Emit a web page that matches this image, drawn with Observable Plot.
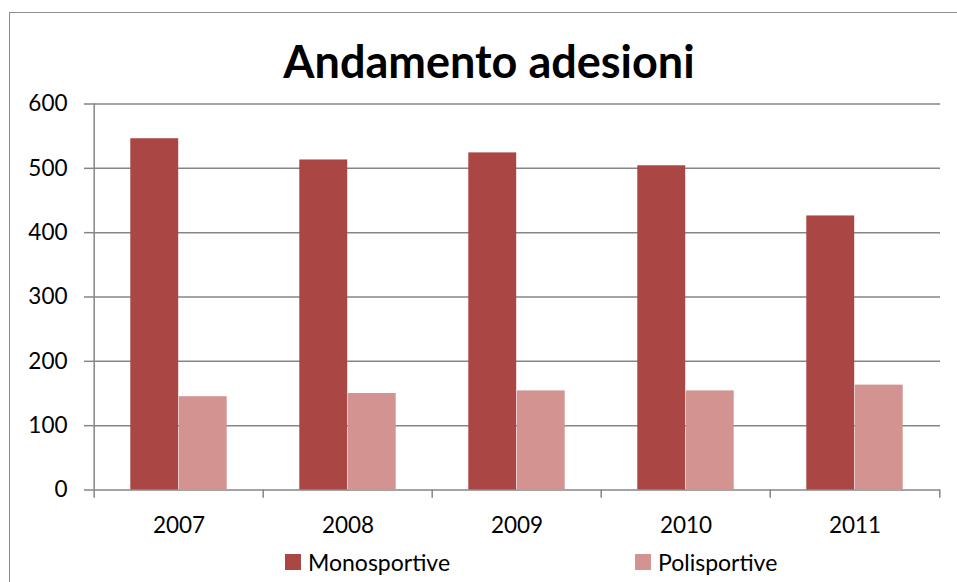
<!DOCTYPE html>
<html>
<head>
<meta charset="utf-8">
<script src="https://cdn.jsdelivr.net/npm/d3@7"></script>
<script src="https://cdn.jsdelivr.net/npm/@observablehq/plot@0.6"></script>
<style>
  html, body { margin: 0; padding: 0; background: #fff; overflow: hidden; }
  #wrap { position: relative; width: 957px; height: 582px; overflow: hidden; }
  #border { position: absolute; left: 9px; top: 12px; width: 1000px; height: 700px;
            border-left: 1.5px solid #8c8c8c; border-top: 1.5px solid #8c8c8c; }
  #chart { position: absolute; left: 0; top: 0; }
</style>
</head>
<body>
<div id="wrap">
  <div id="border"></div>
  <div id="chart"></div>
</div>
<script>
const title = "Andamento adesioni";
const years = ["2007", "2008", "2009", "2010", "2011"];
const monosportive = [546, 513, 524, 504, 426];
const polisportive = [145, 150, 154, 154, 163];
const yTicks = [0, 100, 200, 300, 400, 500, 600];
const seriesNames = ["Monosportive", "Polisportive"];
const seriesColors = ["#AA4643", "#D39391"];

const W = 957, H = 582;
const mL = 92, mR = 17, mT = 103.5, mB = 92.5;
const step = (W - mL - mR) / years.length;
const barW = step * 0.286;
const gap = (step - 2 * barW) / 2;
const grid = "#868686";
const font = "Lato, 'Open Sans', sans-serif";

const mono = years.map((y, i) => ({year: y, value: monosportive[i]}));
const poli = years.map((y, i) => ({year: y, value: polisportive[i]}));

const plot = Plot.plot({
  width: W,
  height: H,
  marginLeft: mL,
  marginRight: mR,
  marginTop: mT,
  marginBottom: mB,
  style: {fontFamily: font, fontSize: "22.5px", color: "black", background: "transparent"},
  x: {type: "band", domain: years, padding: 0, label: null},
  y: {domain: [0, 600], label: null},
  marks: [
    Plot.ruleY(yTicks, {stroke: grid, strokeWidth: 1.5}),
    Plot.barY(mono, {x: "year", y: "value", fill: seriesColors[0], insetLeft: gap, insetRight: step - gap - barW}),
    Plot.barY(poli, {x: "year", y: "value", fill: seriesColors[1], insetLeft: gap + barW, insetRight: gap}),
    // category boundary ticks
    Plot.ruleX(years, {x: d => d, y1: 0, y2: -13, dx: -step / 2, stroke: grid, strokeWidth: 1.5}),
    Plot.ruleX([years[years.length - 1]], {x: d => d, y1: 0, y2: -13, dx: step / 2, stroke: grid, strokeWidth: 1.5}),
    // vertical axis line
    Plot.ruleX([years[0]], {x: d => d, y1: 0, y2: 600, dx: -step / 2, stroke: grid, strokeWidth: 1.5}),
    Plot.axisY(yTicks, {tickSize: 8, tickPadding: 17, stroke: grid, strokeWidth: 1.5, color: "black", tickFormat: d => String(d)}),
    Plot.axisX({tickSize: 0, tickPadding: 27, color: "black"})
  ]
});

const svg = d3.select(plot);
svg.append("text")
  .attr("x", 489).attr("y", 78)
  .attr("text-anchor", "middle")
  .attr("font-family", font)
  .attr("font-weight", "bold")
  .attr("font-size", 45)
  .attr("fill", "black")
  .text(title);

const legendX = [285, 635];
seriesNames.forEach((name, i) => {
  svg.append("rect").attr("x", legendX[i]).attr("y", 554).attr("width", 16).attr("height", 16).attr("fill", seriesColors[i]);
  svg.append("text")
    .attr("x", legendX[i] + 23).attr("y", 571)
    .attr("text-anchor", "start")
    .attr("font-family", font)
    .attr("font-size", 23)
    .attr("fill", "black")
    .text(name);
});

document.getElementById("chart").appendChild(plot);
</script>
</body>
</html>
